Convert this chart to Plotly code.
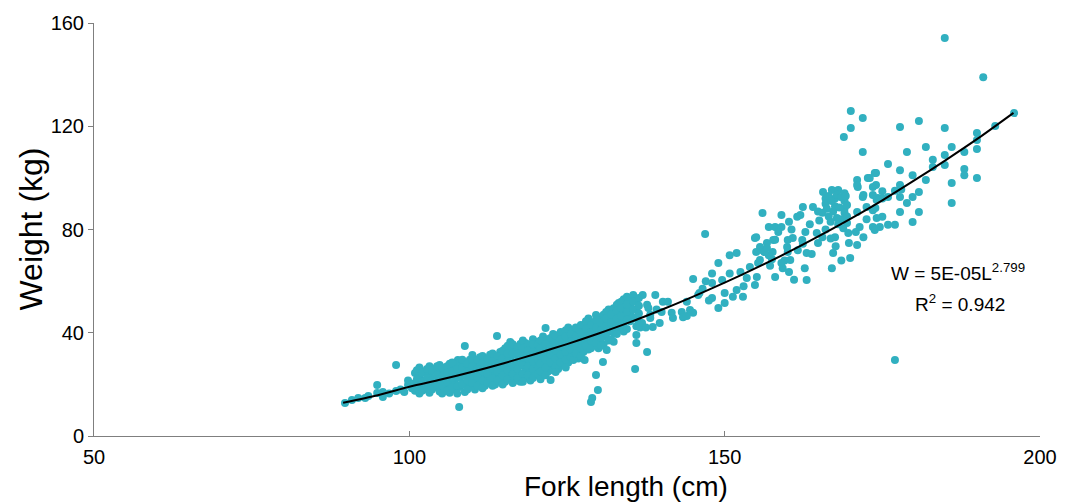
import plotly.graph_objects as go

# ---- data (fork length cm, weight kg) ----
seg_small = [
    (89.8, 12.8), (90.9, 13.9), (91.9, 14.7), (93.0, 14.7), (93.5, 15.5), (94.9, 16.7), (94.9, 19.8),
    (95.8, 17.0), (95.8, 15.1), (96.8, 16.5), (97.9, 27.5), (97.9, 17.4), (98.6, 18.0), (99.2, 17.0),
    (99.8, 19.8), (99.8, 21.5), (100.4, 18.5),
    (100.9, 24.4), (100.9, 20.5), (100.9, 17.5),
    (101.6, 26.5), (101.6, 23.0), (101.6, 19.5), (101.6, 16.5),
    (102.4, 25.0), (102.4, 21.5), (102.4, 18.0),
    (103.2, 27.0), (103.2, 24.0), (103.2, 20.0), (103.2, 16.8),
    (104.0, 26.0), (104.0, 22.5), (104.0, 19.0),
    (104.8, 27.5), (104.8, 24.5), (104.8, 21.0), (104.8, 17.2),
    (105.6, 25.5), (105.6, 22.0), (105.6, 18.5),
    (106.4, 28.0), (106.4, 26.0), (106.4, 23.5), (106.4, 20.0), (106.4, 16.8),
    (107.2, 27.0), (107.2, 24.5), (107.2, 21.5), (107.2, 18.0),
    (107.7, 29.4), (107.9, 11.2),
    (108.0, 28.5), (108.0, 25.5), (108.0, 22.5), (108.0, 19.0),
    (108.8, 34.9), (108.8, 27.5), (108.8, 24.0), (108.8, 20.5), (108.8, 17.0),
    (109.6, 29.5), (109.6, 26.0), (109.6, 22.5), (109.6, 19.5),
    (110.0, 31.4),
    (110.4, 28.5), (110.4, 25.0), (110.4, 21.5), (110.4, 18.0),
    (111.2, 30.5), (111.2, 27.5), (111.2, 24.0), (111.2, 20.5),
    (112.0, 29.0), (112.0, 26.0), (112.0, 22.5), (112.0, 19.5),
    (112.8, 31.5), (112.8, 28.0), (112.8, 25.0), (112.8, 21.5),
    (113.6, 30.0), (113.6, 27.0), (113.6, 23.5), (113.6, 20.0),
    (113.9, 38.7),
    (114.4, 32.5), (114.4, 29.0), (114.4, 26.0), (114.4, 22.5),
    (115.2, 34.0), (115.2, 31.0), (115.2, 28.0), (115.2, 24.5), (115.2, 21.0),
    (116.0, 36.4), (116.0, 33.0), (116.0, 29.5), (116.0, 26.5), (116.0, 23.0),
    (116.8, 34.5), (116.8, 31.5), (116.8, 28.5), (116.8, 25.0), (116.8, 21.5),
    (117.6, 35.6), (117.6, 33.5), (117.6, 30.5), (117.6, 27.5), (117.6, 24.0), (117.6, 21.0),
    (118.4, 36.0), (118.4, 32.5), (118.4, 29.0), (118.4, 26.0), (118.4, 22.5),
    (119.2, 34.5), (119.2, 31.0), (119.2, 28.0), (119.2, 24.5), (119.2, 21.5),
    (120.0, 36.5), (120.0, 33.5), (120.0, 30.0), (120.0, 27.0), (120.0, 23.5),
]

seg_fill = [
    (101.2, 25.5), (101.2, 22.0), (101.2, 18.5),
    (102.0, 24.5), (102.0, 21.0), (102.0, 17.5),
    (102.8, 26.0), (102.8, 22.5), (102.8, 19.0),
    (103.6, 25.5), (103.6, 21.5), (103.6, 18.0),
    (104.4, 27.0), (104.4, 23.5), (104.4, 20.0),
    (105.2, 26.5), (105.2, 23.0), (105.2, 19.5), (105.2, 16.5),
    (106.0, 27.0), (106.0, 24.5), (106.0, 21.0), (106.0, 17.5),
    (106.8, 28.5), (106.8, 25.0), (106.8, 22.5), (106.8, 19.0),
    (107.6, 26.0), (107.6, 23.0), (107.6, 19.5), (107.6, 16.5),
    (108.4, 29.5), (108.4, 26.5), (108.4, 23.5), (108.4, 20.0),
    (109.2, 28.0), (109.2, 25.0), (109.2, 21.5), (109.2, 18.0),
    (110.0, 29.0), (110.0, 27.0), (110.0, 23.5), (110.0, 20.5),
    (110.8, 29.5), (110.8, 26.0), (110.8, 23.0), (110.8, 19.5),
    (111.6, 31.0), (111.6, 28.5), (111.6, 25.0), (111.6, 21.5), (111.6, 18.5),
    (112.4, 30.0), (112.4, 27.0), (112.4, 24.0), (112.4, 20.5),
    (113.2, 32.0), (113.2, 29.0), (113.2, 26.0), (113.2, 22.5), (113.2, 19.5),
    (114.0, 31.0), (114.0, 28.0), (114.0, 25.0), (114.0, 21.5),
    (114.8, 33.0), (114.8, 30.0), (114.8, 27.0), (114.8, 23.5), (114.8, 20.0),
    (115.6, 35.0), (115.6, 32.0), (115.6, 29.0), (115.6, 25.5), (115.6, 22.0),
    (116.4, 35.5), (116.4, 32.0), (116.4, 27.5), (116.4, 24.0), (116.4, 20.5),
    (117.2, 34.5), (117.2, 32.0), (117.2, 29.0), (117.2, 26.0), (117.2, 22.5),
    (118.0, 37.0), (118.0, 34.0), (118.0, 31.0), (118.0, 27.5), (118.0, 24.0), (118.0, 21.0),
    (118.8, 35.5), (118.8, 33.0), (118.8, 30.0), (118.8, 27.0), (118.8, 23.5),
    (119.6, 37.5), (119.6, 35.5), (119.6, 32.5), (119.6, 29.0), (119.6, 26.0), (119.6, 22.5),
    (120.4, 35.5), (120.4, 32.5), (120.4, 29.5), (120.4, 26.5), (120.4, 24.0),
    (121.2, 38.5), (121.2, 36.0), (121.2, 33.0), (121.2, 30.0), (121.2, 27.0), (121.2, 24.5),
    (122.0, 37.5), (122.0, 35.0), (122.0, 33.0), (122.0, 30.0), (122.0, 27.0), (122.0, 25.0),
    (122.8, 39.5), (122.8, 36.5), (122.8, 34.0), (122.8, 31.0), (122.8, 28.0), (122.8, 25.5),
    (123.6, 38.5), (123.6, 35.5), (123.6, 32.0), (123.6, 29.0), (123.6, 26.0),
    (124.4, 39.5), (124.4, 36.5), (124.4, 33.5), (124.4, 30.5), (124.4, 27.5),
    (125.2, 42.0), (125.2, 40.0), (125.2, 37.5), (125.2, 34.5), (125.2, 31.5), (125.2, 28.5),
    (126.0, 41.0), (126.0, 38.0), (126.0, 34.0), (126.0, 31.0),
    (126.8, 41.5), (126.8, 39.5), (126.8, 36.5), (126.8, 33.5), (126.8, 30.0),
    (127.6, 42.5), (127.6, 39.0), (127.6, 36.0), (127.6, 32.5),
    (128.4, 45.5), (128.4, 42.5), (128.4, 39.5), (128.4, 36.5), (128.4, 33.5),
    (129.2, 44.0), (129.2, 41.0), (129.2, 38.0), (129.2, 35.0),
    (130.0, 46.0), (130.0, 43.0), (130.0, 40.0), (130.0, 37.0), (130.0, 34.0),
    (130.8, 47.0), (130.8, 44.5), (130.8, 41.5), (130.8, 38.5), (130.8, 35.5),
    (131.6, 49.0), (131.6, 46.0), (131.6, 43.5), (131.6, 40.5), (131.6, 37.0),
    (132.4, 49.5), (132.4, 46.5), (132.4, 43.5), (132.4, 40.0), (132.4, 36.5),
    (133.2, 51.5), (133.2, 47.5), (133.2, 44.5), (133.2, 41.5),
    (134.0, 53.0), (134.0, 50.0), (134.0, 47.0), (134.0, 44.0), (134.0, 40.5),
    (135.0, 53.5), (135.0, 50.5), (135.0, 47.5), (135.0, 44.5),
    (136.0, 52.0), (136.0, 49.0), (136.0, 45.5), (136.0, 42.5),
]

seg_mid = [
    (120.8, 37.0), (120.8, 34.0), (120.8, 31.0), (120.8, 28.0), (120.8, 25.0), (120.8, 22.0),
    (121.6, 41.8), (121.6, 35.5), (121.6, 32.5), (121.6, 29.5), (121.6, 26.5), (121.6, 23.5),
    (122.4, 38.0), (122.4, 34.5), (122.4, 31.5), (122.4, 28.5), (122.4, 21.7),
    (123.2, 39.0), (123.2, 36.0), (123.2, 33.0), (123.2, 30.0), (123.2, 27.0), (123.2, 24.8),
    (124.0, 40.3), (124.0, 37.5), (124.0, 34.5), (124.0, 31.5), (124.0, 28.5),
    (124.8, 41.0), (124.8, 38.5), (124.8, 35.5), (124.8, 32.5), (124.8, 29.5), (124.8, 26.5),
    (125.6, 39.5), (125.6, 36.5), (125.6, 33.5), (125.6, 30.5),
    (126.0, 29.4),
    (126.4, 42.0), (126.4, 38.5), (126.4, 35.0), (126.4, 32.0),
    (127.2, 43.0), (127.2, 40.0), (127.2, 37.0), (127.2, 34.0), (127.2, 31.0),
    (127.8, 33.3), (127.8, 29.4),
    (128.0, 44.5), (128.0, 41.5), (128.0, 38.0), (128.0, 35.0),
    (128.8, 43.0), (128.8, 40.0), (128.8, 37.0), (128.8, 34.0), (128.8, 13.2),
    (129.0, 14.7),
    (129.6, 46.9), (129.6, 45.0), (129.6, 42.0), (129.6, 39.0), (129.6, 36.0), (129.6, 23.6), (129.9, 17.8),
    (130.4, 44.0), (130.4, 41.0), (130.4, 38.0), (130.4, 35.0), (130.7, 28.7),
    (131.2, 48.0), (131.2, 45.5), (131.2, 42.5), (131.2, 39.5), (131.3, 33.3),
    (132.0, 47.0), (132.0, 44.0), (132.0, 41.0), (132.0, 37.5),
    (132.9, 50.8), (132.9, 48.5), (132.9, 45.5), (132.9, 42.5), (132.9, 39.5),
    (133.6, 52.0), (133.6, 49.5), (133.6, 46.5), (133.6, 43.0),
    (134.5, 53.9), (134.5, 51.0), (134.5, 48.0), (134.5, 45.0), (134.5, 41.5),
    (135.5, 54.6), (135.5, 52.0), (135.5, 49.0), (135.5, 46.0),
    (135.8, 26.0), (136.0, 39.1), (136.0, 36.0),
    (136.4, 53.5), (136.4, 50.5), (136.4, 47.5), (136.4, 44.0),
    (136.6, 42.0), (136.9, 43.8), (137.0, 54.6), (137.7, 50.8), (137.7, 32.5), (137.5, 42.0),
    (137.9, 49.6), (138.2, 45.7), (138.2, 47.0), (138.6, 42.2), (139.0, 54.6), (139.2, 49.0),
    (139.7, 43.8), (140.0, 48.0), (140.2, 52.0), (141.0, 52.0), (141.6, 47.7), (141.8, 45.7),
    (143.2, 48.0), (143.4, 46.0), (144.0, 52.0), (144.0, 46.5), (144.5, 48.8), (145.0, 47.7),
    (145.0, 60.8), (145.8, 54.6), (146.0, 55.4), (146.9, 78.3),
]

seg_upper = [
    (147.0, 60.0), (146.5, 57.0), (147.5, 52.5), (148.0, 63.0), (148.0, 59.3), (148.0, 53.5),
    (149.0, 67.0), (149.6, 60.4), (150.0, 55.4), (149.0, 49.6), (150.8, 63.0), (150.8, 70.0),
    (151.9, 70.9), (150.0, 51.5), (151.3, 53.9), (151.9, 56.6), (152.9, 53.9), (152.5, 63.5),
    (153.0, 58.0), (153.5, 61.2), (154.0, 65.5), (155.1, 61.6), (154.8, 58.5), (155.3, 67.0),
    (154.8, 76.7), (156.0, 72.0), (155.6, 68.2), (156.7, 74.8), (157.0, 70.0), (157.2, 66.0),
    (156.0, 86.4), (159.0, 85.6), (157.0, 81.0), (158.0, 81.0), (159.0, 81.0), (161.5, 84.9),
    (162.4, 88.7), (164.0, 88.7), (164.8, 87.0), (165.6, 94.5), (167.0, 95.3), (168.0, 95.3),
    (169.0, 94.0), (166.0, 90.0), (167.5, 89.0), (169.0, 88.0), (166.5, 85.0), (168.5, 84.0),
    (155.0, 77.0), (155.6, 73.2), (158.0, 76.0), (155.0, 71.3), (156.3, 71.3), (157.6, 71.3),
    (160.8, 76.7), (159.9, 73.2), (161.6, 72.0), (162.4, 74.5), (164.6, 78.6), (164.8, 74.8),
    (165.5, 77.0), (167.0, 65.0), (163.0, 60.4), (159.5, 68.0), (159.2, 65.0), (162.7, 65.0),
    (158.0, 61.6), (169.4, 82.5), (169.6, 78.6), (169.7, 74.8), (169.9, 69.0), (167.2, 70.9),
    (166.0, 92.0), (167.5, 92.0), (169.0, 91.0), (168.0, 82.0), (169.0, 86.5), (162.0, 85.6),
    (160.2, 83.0), (158.5, 79.0), (160.6, 80.0), (163.5, 82.0), (162.8, 79.0), (167.5, 77.0),
    (166.0, 80.0), (166.8, 76.5), (167.6, 73.5), (165.0, 83.5), (162.3, 75.9), (163.0, 70.9),
    (163.8, 70.5), (157.7, 75.9), (156.7, 72.8), (160.0, 75.9), (160.0, 71.3), (160.4, 68.2),
    (157.5, 68.5), (168.5, 68.0), (159.0, 67.0), (160.2, 63.5), (161.0, 60.5),
    (166.5, 93.0), (167.0, 91.0), (167.8, 93.5), (168.5, 92.5), (169.2, 93.0), (166.2, 88.0),
    (167.2, 87.0), (168.2, 88.5), (169.4, 89.5), (166.8, 83.0), (167.8, 84.5), (168.8, 80.5),
    (169.4, 85.0), (165.5, 86.5),
]

seg_large = [
    (173.8, 101.9), (172.7, 100.0), (171.0, 99.2), (171.1, 96.5), (173.5, 96.5), (173.5, 93.4),
    (172.0, 93.4), (174.3, 92.2), (171.0, 86.8), (171.4, 81.0), (173.5, 81.0), (174.6, 81.0),
    (172.0, 77.0), (170.8, 79.0), (171.0, 74.0),
    (184.9, 154.2), (191.0, 139.0), (195.9, 125.1), (170.0, 125.9), (171.9, 123.2), (170.0, 119.3),
    (168.9, 115.8), (177.8, 119.7), (180.8, 122.0), (184.9, 119.3), (190.0, 117.4), (192.9, 120.1),
    (171.9, 110.0), (178.9, 110.0), (181.9, 112.0), (186.0, 112.0), (184.9, 108.9), (190.0, 114.7),
    (190.0, 111.2), (188.0, 110.0), (175.9, 105.4), (177.8, 103.0), (183.0, 107.0), (183.0, 104.2),
    (179.8, 101.0), (184.9, 105.0), (188.0, 103.4), (188.0, 101.0), (190.0, 100.0), (186.0, 98.0),
    (186.0, 90.3), (181.9, 99.2), (180.8, 94.5), (179.8, 92.6), (177.8, 97.2), (177.8, 92.6),
    (178.9, 90.3), (180.8, 86.8), (177.8, 86.8), (179.8, 82.9), (174.0, 101.9), (174.0, 97.2),
    (173.0, 100.0), (171.0, 97.2), (171.9, 92.6), (175.0, 94.8), (177.0, 95.0), (178.0, 95.5),
    (175.0, 92.0), (174.1, 91.4), (173.9, 88.3), (175.0, 84.9), (174.1, 84.5), (175.9, 81.8),
    (177.0, 81.8), (173.8, 79.8), (175.9, 92.6), (172.5, 88.7), (173.5, 87.5), (172.5, 84.0),
    (177.0, 29.4),
]

# trendline values
curve_len = [89.5, 95, 100, 105, 110, 115, 120, 125, 130, 135, 140, 145, 150, 155, 160,
             165, 170, 175, 180, 185, 190, 195.8]
curve_wt = [12.9, 15.8, 19.1, 21.9, 24.9, 28.2, 31.8, 35.6, 39.7, 44.1, 48.9, 54.0, 59.4,
            65.1, 71.1, 77.5, 84.2, 91.3, 98.9, 106.8, 115.0, 125.2]

x_ticks = [50, 100, 150, 200]
y_ticks = [0, 40, 80, 120, 160]

points = seg_small + seg_fill + seg_mid + seg_upper + seg_large
fork_length = [p[0] for p in points]
weight = [p[1] for p in points]

FONT = "Liberation Sans, Arial, sans-serif"
TEAL = "#31B0C0"
AXIS = "#7F7F7F"

fig = go.Figure()
fig.add_trace(go.Scatter(
    x=fork_length, y=weight, mode="markers",
    marker=dict(color=TEAL, size=8, line=dict(width=0)),
    showlegend=False, hoverinfo="x+y",
))
fig.add_trace(go.Scatter(
    x=curve_len, y=curve_wt, mode="lines",
    line=dict(color="black", width=2, shape="spline", smoothing=0.8),
    showlegend=False, hoverinfo="skip",
))

fig.add_annotation(x=176.05, y=63.5, xref="x", yref="y", xanchor="left", yanchor="middle",
                   text="W = 5E-05L<sup>2.799</sup>", showarrow=False,
                   font=dict(family=FONT, size=19, color="black"))
fig.add_annotation(x=179.9, y=51.5, xref="x", yref="y", xanchor="left", yanchor="middle",
                   text="R<sup>2</sup> = 0.942", showarrow=False,
                   font=dict(family=FONT, size=19, color="black"))

# axis titles placed as in the reference
fig.add_annotation(x=0.5624, y=0, xref="paper", yref="paper", xanchor="center", yanchor="middle",
                   yshift=-50, text="Fork length (cm)", showarrow=False,
                   font=dict(family=FONT, size=28, color="black"))
fig.add_annotation(x=0, y=0.5, xref="paper", yref="paper", xanchor="center", yanchor="middle",
                   xshift=-64, textangle=-90, text="Weight (kg)", showarrow=False,
                   font=dict(family=FONT, size=32, color="black"))

fig.update_layout(
    width=1070, height=502,
    margin=dict(l=86, r=38, t=15, b=74),
    paper_bgcolor="white", plot_bgcolor="white",
    font=dict(family=FONT, color="black"),
    xaxis=dict(
        range=[50, 200], tickvals=x_ticks, ticktext=[str(v) for v in x_ticks],
        showgrid=False, zeroline=False, showline=True, linecolor=AXIS, linewidth=1,
        ticks="inside", ticklen=5, tickcolor=AXIS, ticklabelstandoff=3,
        tickfont=dict(family=FONT, size=20, color="black"), automargin=False,
    ),
    yaxis=dict(
        range=[0, 160], tickvals=y_ticks, ticktext=[str(v) for v in y_ticks],
        showgrid=False, zeroline=False, showline=True, linecolor=AXIS, linewidth=1,
        ticks="outside", ticklen=5, tickcolor=AXIS,
        tickfont=dict(family=FONT, size=20, color="black"), automargin=False,
    ),
)

fig.write_html("out.html")
